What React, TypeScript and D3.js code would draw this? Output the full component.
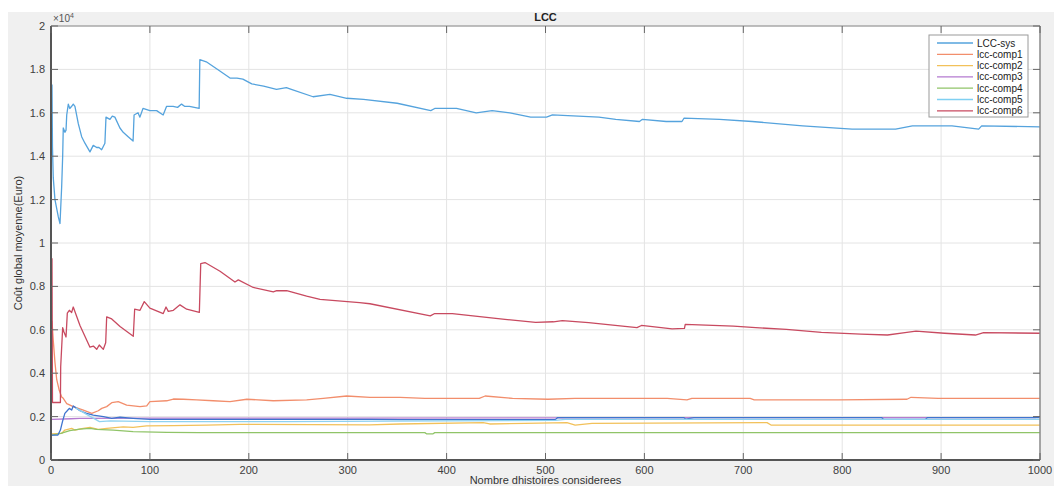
import React, { useEffect, useRef } from "react";
import * as d3 from "d3";

type Pt = [number, number];

// values: [histories, euros]
const lccSys: Pt[] = [
  [1, 17300], [1.5, 14400], [2.3, 13000], [4, 12000], [7.4, 11200], [9.1, 10900], [10.8, 12600],
  [11.8, 14000], [12.4, 15300], [14.1, 15100], [15.2, 15200], [15.9, 15900], [17.5, 16400], [19, 16200],
  [20.9, 16300], [22.5, 16400], [24.2, 16300], [27.6, 15500], [31, 14900], [34.3, 14600], [39.4, 14200],
  [42.7, 14500], [46.2, 14400], [48.5, 14400], [51.2, 14300], [54.5, 14600], [55.6, 15800], [59.6, 15700],
  [62, 15850], [64.6, 15800], [69.7, 15300], [73, 15100], [78, 14900], [83, 14700], [84, 15900],
  [88, 16000], [89.9, 15800], [93, 16200], [100, 16100], [106.8, 16100], [113.4, 15900], [116.9, 16300],
  [123.5, 16300], [128, 16250], [132, 16400], [135, 16300], [140, 16300], [149.8, 16200], [150.5, 18450],
  [157, 18350], [170, 17950], [181, 17600], [188, 17600], [194, 17550], [203, 17330], [215, 17230],
  [228, 17080], [238, 17160], [243, 17080], [265, 16740], [282, 16850], [299, 16670], [316, 16620],
  [350, 16440], [384, 16100], [388, 16200], [410, 16200], [430, 16000], [446, 16100], [464, 16000],
  [485, 15800], [501, 15800], [507, 15900], [554, 15800], [571, 15700], [595, 15600], [598, 15700],
  [622, 15600], [638, 15600], [640, 15750], [676, 15700], [709, 15600], [760, 15400], [810, 15250],
  [854, 15250], [871, 15400], [911, 15400], [938, 15250], [941, 15400], [1000, 15350],
];

const comp1: Pt[] = [
  [1, 6400], [2.3, 5500], [4, 4500], [5.8, 3700], [8.4, 3200], [10.8, 2900], [12.4, 2840], [15.9, 2600],
  [22.5, 2460], [32.7, 2300], [41.2, 2150], [47.8, 2270], [51.3, 2380], [56.3, 2460], [61.4, 2640],
  [68, 2690], [76.5, 2530], [90, 2460], [96.8, 2490], [100, 2690], [117, 2730], [123.7, 2810],
  [133.8, 2800], [147.3, 2770], [164, 2730], [181, 2690], [198, 2800], [224.8, 2730], [258.5, 2770],
  [275.3, 2840], [299, 2950], [322.5, 2890], [353, 2890], [378, 2840], [433, 2840], [439, 2950],
  [466.7, 2840], [502.5, 2800], [530, 2840], [623, 2840], [643, 2770], [648, 2840], [707, 2840],
  [711, 2770], [796, 2770], [865.5, 2800], [869.6, 2890], [897, 2840], [1000, 2840],
];

const comp2: Pt[] = [
  [1, 1200], [10, 1230], [11, 1230], [14, 1380], [20.9, 1460], [24.2, 1380], [32.6, 1460], [39.4, 1500],
  [47.8, 1410], [56.3, 1460], [73, 1530], [83, 1500], [96.6, 1570], [123.6, 1580], [157, 1610],
  [191, 1640], [322, 1620], [353, 1660], [437, 1720], [443.6, 1660], [479, 1690], [521.7, 1720],
  [530, 1610], [547, 1690], [724, 1720], [728, 1610], [1000, 1610],
];

const comp3: Pt[] = [
  [1, 1870], [20, 1900], [29, 1920], [100, 1930], [300, 1930], [500, 1940], [700, 1950], [995, 1950], [1000, 2000],
];

const comp4: Pt[] = [
  [1, 1150], [10, 1230], [19, 1350], [29, 1420], [39.4, 1460], [46, 1410], [63, 1380], [83, 1310],
  [117, 1270], [150, 1260], [378, 1260], [380, 1200], [386, 1200], [388, 1260], [1000, 1260],
];

const comp5: Pt[] = [[1, 0], [1000, 0]];

const comp6: Pt[] = [
  [1, 9300], [1.5, 2650], [9.5, 2650], [9.8, 4300], [11.8, 6100], [13.1, 5900], [15.2, 5670], [16.5, 6770],
  [18.5, 6900], [20.9, 6800], [22.5, 7050], [29.3, 6200], [39.4, 5200], [42.8, 5250], [46.2, 5100],
  [48.8, 5300], [52.9, 5100], [55.3, 5400], [56.3, 6600], [61.4, 6500], [69.8, 6150], [83.2, 5700],
  [84.6, 6950], [90, 6900], [94.3, 7300], [100, 7000], [113.5, 6750], [116.3, 7050], [118.6, 6850],
  [123.7, 6900], [130.4, 7150], [137.2, 6950], [150, 6800], [151.4, 9050], [155.7, 9100], [170.9, 8700],
  [186, 8200], [189.4, 8300], [204.5, 7950], [224.8, 7750], [228.2, 7800], [238.3, 7800], [258.5, 7550],
  [272, 7400], [312, 7250], [322.5, 7200], [383.5, 6640], [388, 6750], [405.8, 6750], [459, 6480],
  [490, 6340], [508, 6370], [517, 6420], [543.6, 6330], [592.5, 6100], [597, 6200], [628, 6040],
  [640.5, 6070], [641.3, 6250], [690, 6170], [712.5, 6100], [743.5, 6020], [779, 5880], [819, 5800],
  [845.8, 5760], [863.5, 5870], [874.6, 5940], [903.5, 5840], [934.7, 5760], [943, 5870], [1000, 5840],
];

// extra traces drawn without legend entries (colour order wraps round)
const auxBlue: Pt[] = [
  [1, 1150], [7, 1150], [9.5, 1380], [11.6, 1770], [14, 2150], [16.4, 2270], [18.5, 2380], [20.9, 2300],
  [22.5, 2490], [26, 2380], [29.3, 2270], [36, 2150], [42.7, 2070], [53, 2000], [61.4, 1920],
  [69.8, 1970], [83, 1920], [100, 1870], [191, 1870], [322, 1870], [353, 1860], [510, 1860],
  [512, 1950], [640, 1950], [642, 1880], [650, 1950], [840, 1950], [842, 1870], [884, 1870],
  [886, 1950], [1000, 1950],
];

const auxCyan: Pt[] = [
  [25, 2400], [36, 2100], [49, 1770], [60, 1800], [100, 1770], [191, 1770], [240, 1770], [400, 1800],
  [510, 1830], [520, 1870], [1000, 1870],
];

const seriesNames = ["LCC-sys", "lcc-comp1", "lcc-comp2", "lcc-comp3", "lcc-comp4", "lcc-comp5", "lcc-comp6"];
const seriesColors = ["#55a3dd", "#f28e6c", "#f2c15a", "#b47ad0", "#90c468", "#7fd0f2", "#c84a60"];
const xTicks = [0, 100, 200, 300, 400, 500, 600, 700, 800, 900, 1000];
const yTicks = [0, 2000, 4000, 6000, 8000, 10000, 12000, 14000, 16000, 18000, 20000];

const App = () => {
  const ref = useRef<SVGSVGElement>(null);

  useEffect(() => {
    const width = 1054;
    const height = 486;
    const left = 51, right = 1040, top = 26, bottom = 460;
    const font = "'Liberation Sans', Arial, sans-serif";

    const svg = d3.select(ref.current).attr("width", width).attr("height", height);
    svg.selectAll("*").remove();

    const x = d3.scaleLinear().domain([0, 1000]).range([left, right]);
    const y = d3.scaleLinear().domain([0, 20000]).range([bottom, top]);

    svg.append("rect").attr("width", width).attr("height", height).attr("fill", "#fff");
    svg.append("rect").attr("x", 8).attr("y", 12).attr("width", width - 8).attr("height", height - 12).attr("fill", "#f0f0f0");
    svg.append("rect").attr("x", left).attr("y", top).attr("width", right - left).attr("height", bottom - top).attr("fill", "#fff");

    // grid
    svg.append("g").selectAll("line").data(xTicks.slice(1, -1)).enter().append("line")
      .attr("x1", d => x(d)).attr("x2", d => x(d)).attr("y1", top).attr("y2", bottom)
      .attr("stroke", "#e4e4e4").attr("stroke-width", 1);
    svg.append("g").selectAll("line").data(yTicks.slice(1, -1)).enter().append("line")
      .attr("y1", d => y(d)).attr("y2", d => y(d)).attr("x1", left).attr("x2", right)
      .attr("stroke", "#e4e4e4").attr("stroke-width", 1);

    const line = d3.line<Pt>().x(d => x(d[0])).y(d => y(d[1]));
    const all = [lccSys, comp1, comp2, comp3, comp4, comp5, comp6];
    const plotted = [...all.map((d, i) => ({ d, c: seriesColors[i] })), { d: auxBlue, c: "#3f74cf" }, { d: auxCyan, c: "#8fd2f0" }];

    svg.append("g").selectAll("path").data(plotted).enter().append("path")
      .attr("d", s => line(s.d))
      .attr("fill", "none")
      .attr("stroke", s => s.c)
      .attr("stroke-width", 1.3)
      .attr("stroke-linejoin", "round");

    // box and ticks
    svg.append("line").attr("x1", left).attr("x2", right).attr("y1", top).attr("y2", top).attr("stroke", "#a8a8a8").attr("stroke-width", 1.5);
    svg.append("line").attr("x1", right).attr("x2", right).attr("y1", top).attr("y2", bottom).attr("stroke", "#8a8a8a").attr("stroke-width", 1.5);
    svg.append("line").attr("x1", left).attr("x2", left).attr("y1", top).attr("y2", bottom).attr("stroke", "#555").attr("stroke-width", 2);
    svg.append("line").attr("x1", left).attr("x2", right).attr("y1", bottom).attr("y2", bottom).attr("stroke", "#555").attr("stroke-width", 2);

    const tk = svg.append("g").attr("stroke", "#666").attr("stroke-width", 1);
    xTicks.forEach(t => {
      tk.append("line").attr("x1", x(t)).attr("x2", x(t)).attr("y1", bottom).attr("y2", bottom - 7);
      tk.append("line").attr("x1", x(t)).attr("x2", x(t)).attr("y1", top).attr("y2", top + 7);
    });
    yTicks.forEach(t => {
      tk.append("line").attr("x1", left).attr("x2", left + 7).attr("y1", y(t)).attr("y2", y(t));
      tk.append("line").attr("x1", right).attr("x2", right - 7).attr("y1", y(t)).attr("y2", y(t));
    });

    // tick labels
    svg.append("g").selectAll("text").data(xTicks).enter().append("text")
      .attr("x", d => x(d)).attr("y", 474).attr("text-anchor", "middle")
      .attr("font-family", font).attr("font-size", 11).attr("fill", "#404040")
      .text(d => String(d));
    svg.append("g").selectAll("text").data(yTicks).enter().append("text")
      .attr("x", 45).attr("y", d => y(d) + 4).attr("text-anchor", "end")
      .attr("font-family", font).attr("font-size", 11).attr("fill", "#404040")
      .text(d => String(+(d / 1e4).toFixed(1)));

    const exp = svg.append("text").attr("x", 53).attr("y", 22).attr("font-family", font).attr("font-size", 10).attr("fill", "#555");
    exp.append("tspan").text("×10");
    exp.append("tspan").attr("font-size", 7).attr("dy", -4).text("4");

    svg.append("text").attr("x", (left + right) / 2).attr("y", 21).attr("text-anchor", "middle")
      .attr("font-family", font).attr("font-size", 11).attr("font-weight", "bold").attr("fill", "#222").text("LCC");

    svg.append("text").attr("x", (left + right) / 2).attr("y", 484).attr("text-anchor", "middle")
      .attr("font-family", font).attr("font-size", 11).attr("fill", "#333").text("Nombre dhistoires considerees");

    svg.append("text").attr("transform", `translate(22,${(top + bottom) / 2}) rotate(-90)`).attr("text-anchor", "middle")
      .attr("font-family", font).attr("font-size", 11).attr("fill", "#333").text("Coût global moyenne(Euro)");

    // legend
    const lg = svg.append("g");
    lg.append("rect").attr("x", 929).attr("y", 35).attr("width", 99).attr("height", 82)
      .attr("fill", "#fff").attr("stroke", "#9a9a9a").attr("stroke-width", 1);
    seriesNames.forEach((n, i) => {
      const ly = 43 + i * 11.3;
      lg.append("line").attr("x1", 937).attr("x2", 973).attr("y1", ly).attr("y2", ly)
        .attr("stroke", seriesColors[i]).attr("stroke-width", 1.3);
      lg.append("text").attr("x", 977).attr("y", ly + 3.5).attr("font-family", font).attr("font-size", 10)
        .attr("fill", "#222").text(n);
    });
  }, []);

  return <svg ref={ref} style={{ position: "absolute", left: 0, top: 0 }}></svg>;
};

export default App;
